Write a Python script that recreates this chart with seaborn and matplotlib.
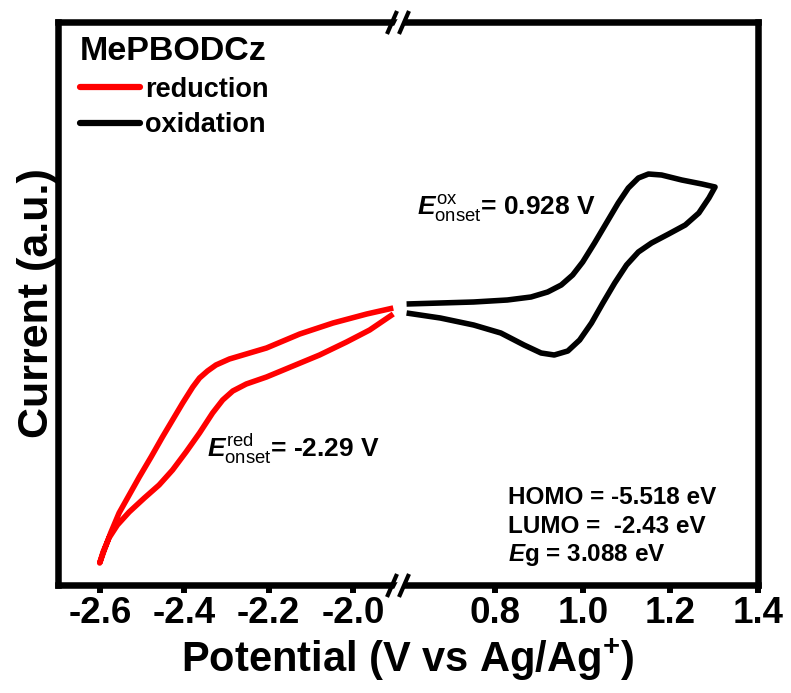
import matplotlib
matplotlib.use('Agg')
import matplotlib.pyplot as plt
import seaborn as sns
import pandas as pd
from matplotlib.lines import Line2D

# ---------------- data ----------------
# reduction scan (red), potential in V vs Ag/Ag+, current in a.u.
red_potential = [-1.904, -1.967, -2.047, -2.126, -2.205, -2.253, -2.293, -2.325,
                 -2.345, -2.364, -2.380, -2.404, -2.428, -2.452, -2.479, -2.507,
                 -2.531, -2.555, -2.575, -2.590, -2.601,
                 -2.593, -2.579, -2.559, -2.531, -2.495, -2.460, -2.428, -2.396,
                 -2.364, -2.333, -2.309, -2.285, -2.253, -2.205, -2.142, -2.079,
                 -2.015, -1.960, -1.904]
red_current = [2.77, 2.71, 2.62, 2.51, 2.37, 2.31, 2.26, 2.20,
               2.14, 2.07, 1.98, 1.82, 1.65, 1.48, 1.28, 1.08,
               0.90, 0.72, 0.52, 0.35, 0.22,
               0.33, 0.47, 0.60, 0.73, 0.87, 1.00, 1.15, 1.33,
               1.52, 1.72, 1.85, 1.94, 2.01, 2.08, 2.19, 2.30,
               2.43, 2.55, 2.71]

# oxidation scan (black)
ox_potential = [0.598, 0.675, 0.751, 0.828, 0.882, 0.920, 0.951, 0.977, 1.000,
                1.027, 1.054, 1.081, 1.104, 1.127, 1.150, 1.180, 1.226, 1.272, 1.302,
                1.288, 1.265, 1.234, 1.196, 1.157, 1.127, 1.100, 1.073, 1.046,
                1.020, 0.993, 0.966, 0.935, 0.905, 0.866, 0.813, 0.751, 0.675, 0.598]
ox_current = [2.81, 2.82, 2.83, 2.85, 2.88, 2.93, 3.00, 3.10, 3.23,
              3.42, 3.62, 3.82, 3.97, 4.07, 4.11, 4.10, 4.05, 4.01, 3.98,
              3.87, 3.72, 3.60, 3.51, 3.42, 3.33, 3.20, 3.02, 2.82,
              2.62, 2.45, 2.34, 2.30, 2.32, 2.40, 2.52, 2.60, 2.67, 2.72]

left_major = [-2.6, -2.4, -2.2, -2.0]
left_minor = [-2.5, -2.3, -2.1]
right_major = [0.8, 1.0, 1.2, 1.4]
right_minor = [0.7, 0.9, 1.1, 1.3]
left_xlim = (-2.70, -1.888)
right_xlim = (0.583, 1.40)
ylim = (0.0, 5.63)

compound = 'MePBODCz'
series_labels = ['reduction', 'oxidation']
e_red = r'$E^{\rm red}_{\rm onset}$= -2.29 V'
e_ox = r'$E^{\rm ox}_{\rm onset}$= 0.928 V'
energy_lines = ['HOMO = -5.518 eV', 'LUMO =  -2.43 eV', r'$E$g = 3.088 eV']

# ---------------- style ----------------
sns.set_theme(style='white')
plt.rcParams['font.family'] = ['Liberation Sans', 'DejaVu Sans']
plt.rcParams['font.weight'] = 'bold'
plt.rcParams['axes.labelweight'] = 'bold'
plt.rcParams['text.color'] = 'black'
plt.rcParams['axes.labelcolor'] = 'black'
plt.rcParams['xtick.color'] = 'black'
plt.rcParams['ytick.color'] = 'black'
plt.rcParams['mathtext.fontset'] = 'custom'
plt.rcParams['mathtext.rm'] = 'Liberation Sans:weight=normal'
plt.rcParams['mathtext.it'] = 'Liberation Sans:italic:bold'
plt.rcParams['mathtext.bf'] = 'Liberation Sans:bold'
plt.rcParams['axes.unicode_minus'] = True

W, H = 791, 693
L, R, B, T, BR = 58, 758, 585, 22, 400
fig = plt.figure(figsize=(W / 100, H / 100), dpi=100)
ax1 = fig.add_axes([L / W, 1 - B / H, (BR - L) / W, (B - T) / H])
ax2 = fig.add_axes([BR / W, 1 - B / H, (R - BR) / W, (B - T) / H])

red_df = pd.DataFrame({'Potential': red_potential, 'Current': red_current})
ox_df = pd.DataFrame({'Potential': ox_potential, 'Current': ox_current})

lw = 4.0
sns.lineplot(data=red_df, x='Potential', y='Current', sort=False, estimator=None,
             ax=ax1, color='#ff0000', lw=lw, solid_joinstyle='round',
             solid_capstyle='butt', legend=False)
sns.lineplot(data=ox_df, x='Potential', y='Current', sort=False, estimator=None,
             ax=ax2, color='black', lw=lw, solid_joinstyle='round',
             solid_capstyle='butt', legend=False)

spine_w = 4.7
for ax, xl, mj, mn in ((ax1, left_xlim, left_major, left_minor),
                       (ax2, right_xlim, right_major, right_minor)):
    ax.set_xlim(*xl)
    ax.set_ylim(*ylim)
    ax.set_xticks(mj)
    ax.set_xticks(mn, minor=True)
    ax.set_xticklabels([f'{v:.1f}' for v in mj])
    ax.set_yticks([])
    ax.set_xlabel('')
    ax.set_ylabel('')
    ax.tick_params(axis='x', which='major', direction='out', length=6, width=4.3,
                   labelsize=26.5, pad=2, bottom=True, color='black',
                   labelcolor='black')
    ax.tick_params(axis='x', which='minor', direction='out', length=2.5, width=4.3,
                   bottom=True, color='black')
    for s in ax.spines.values():
        s.set_color('black')
        s.set_linewidth(spine_w)
    ax.patch.set_alpha(0)
ax1.spines['right'].set_visible(False)
ax2.spines['left'].set_visible(False)

ax1.set_ylabel('Current (a.u.)', fontsize=31, fontweight='bold', labelpad=1, color='black')
fig.text((L + R) / 2 / W, 1 - 660 / H, r'Potential (V vs Ag/Ag$^{\mathbf{+}}$)',
         ha='center', va='center', fontsize=30, fontweight='bold', color='black')

# legend
handles = [Line2D([], [], color='#ff0000', lw=4.5, solid_capstyle='round'),
           Line2D([], [], color='black', lw=4.5, solid_capstyle='round')]
leg = ax1.legend(handles=handles, labels=series_labels, title=compound,
                 loc='upper left', bbox_to_anchor=(0.065, 0.975), frameon=False,
                 fontsize=19.5, title_fontproperties={'weight': 'bold', 'size': 24.5},
                 alignment='left', handlelength=2.2, handletextpad=0.2,
                 labelspacing=0.35, borderpad=0, borderaxespad=0)
for t in leg.get_texts():
    t.set_color('black')
leg.get_title().set_color('black')

# annotations
ax2.text(0.047, 0.657, e_ox, transform=ax2.transAxes, fontsize=19,
         fontweight='bold', ha='left', va='baseline')
ax1.text(0.436, 0.227, e_red, transform=ax1.transAxes, fontsize=19,
         fontweight='bold', ha='left', va='baseline')
for i, s in enumerate(energy_lines):
    ax2.text(0.302, 0.156 - i * 0.0515, s, transform=ax2.transAxes, fontsize=17.5,
             fontweight='bold', ha='left', va='center')

# axis-break marks
def fx(px):
    return px / W

def fy(py):
    return 1 - py / H

for yb in (T, B):
    fig.add_artist(Line2D([fx(BR - 4), fx(BR + 4)], [fy(yb + 8), fy(yb - 8)],
                          color='white', lw=5, transform=fig.transFigure, zorder=20))
    for xc in (BR - 8, BR + 4):
        fig.add_artist(Line2D([fx(xc - 5), fx(xc + 5)], [fy(yb + 12), fy(yb - 11)],
                              color='black', lw=3, transform=fig.transFigure,
                              zorder=21, solid_capstyle='butt'))

fig.savefig('out.png', dpi=100)
